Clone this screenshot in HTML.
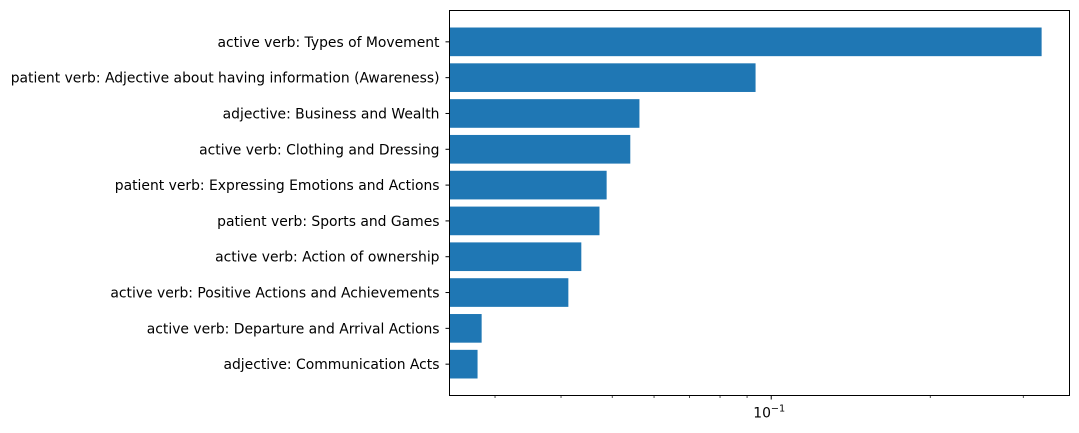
<!DOCTYPE html>
<html><head><meta charset="utf-8"><style>
body{margin:0;background:#fff;}
svg{display:block;font-family:"DejaVu Sans","Liberation Sans",sans-serif;}
</style></head><body>
<svg id="chart" width="1079" height="433" viewBox="0 0 1079 433">
<g id="bars"></g>
<g id="yt"></g>
<g id="xt"></g>
<rect x="449.5" y="10.5" width="620" height="385" fill="none" stroke="#000" stroke-width="1"/>
</svg>
<script>
const categories=["active verb: Types of Movement","patient verb: Adjective about having information (Awareness)","adjective: Business and Wealth","active verb: Clothing and Dressing","patient verb: Expressing Emotions and Actions","patient verb: Sports and Games","active verb: Action of ownership","active verb: Positive Actions and Achievements","active verb: Departure and Arrival Actions","adjective: Communication Acts"];
const values=[0.325,0.0934,0.0563,0.0541,0.0488,0.0473,0.0437,0.0413,0.0283,0.0278];
const majorTicks=[0.1];
const minorTicks=[0.03,0.04,0.05,0.06,0.07,0.08,0.09,0.2,0.3];
const NS="http://www.w3.org/2000/svg";
const L=449.5,R=1069.5,T=10.5,B=395.5;
const xmin=0.0246,xmax=0.367;
function x(v){return L+(Math.log10(v)-Math.log10(xmin))/(Math.log10(xmax)-Math.log10(xmin))*(R-L);}
const step=(B-T)/(categories.length+0.75);
function yc(i){return T+step*(i+0.875);}
function mk(t,a){const e=document.createElementNS(NS,t);for(const k in a)e.setAttribute(k,a[k]);return e;}
const bars=document.getElementById('bars'),yt=document.getElementById('yt'),xt=document.getElementById('xt');
values.forEach((v,i)=>{
 const h=step*0.8;
 const r=mk('rect',{x:L,y:yc(i)-h/2,width:Math.max(0,x(v)-L),height:h,fill:'#1f77b4'});
 
 
 bars.appendChild(r);
 const tk=mk('line',{x1:L-4,x2:L,y1:yc(i),y2:yc(i),stroke:'#000'});
 
 
 yt.appendChild(tk);
 const t=mk('text',{x:L-10,y:yc(i)+5,'text-anchor':'end','font-size':'13.9',fill:'#000'});
 t.textContent=categories[i];
 
 
 yt.appendChild(t);
});
minorTicks.forEach(v=>{
 const l=mk('line',{x1:x(v),x2:x(v),y1:B,y2:B+2.5,stroke:'#000','stroke-width':0.7});
 
 
 xt.appendChild(l);
});
majorTicks.forEach(v=>{
 const l=mk('line',{x1:x(v),x2:x(v),y1:B,y2:B+4,stroke:'#000'});
 
 
 xt.appendChild(l);
 const t=mk('text',{x:x(v)-2,y:B+22,'text-anchor':'middle','font-size':'13.9'});
 
 
 const e=Math.round(Math.log10(v));
 t.innerHTML='10<tspan dy="-6" font-size="9.7">'+(e<0?'\u2212':'')+Math.abs(e)+'</tspan>';
 xt.appendChild(t);
});
</script>
</body></html>
